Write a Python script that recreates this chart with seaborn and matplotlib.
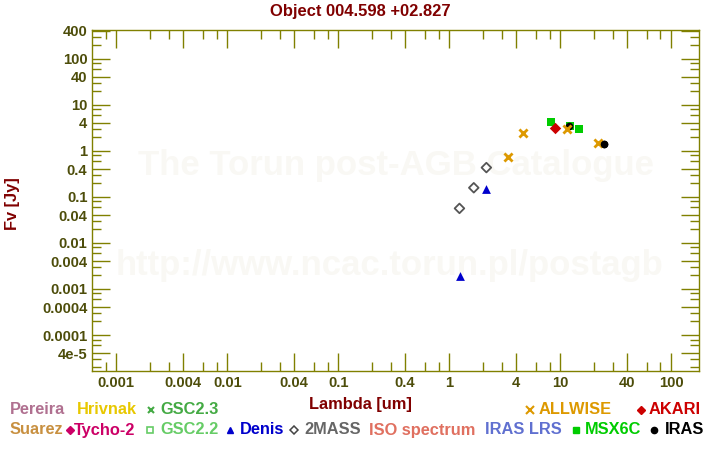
import matplotlib
matplotlib.use("Agg")
import matplotlib.pyplot as plt
import seaborn as sns
import numpy as np
import pandas as pd
from matplotlib.lines import Line2D
from matplotlib.ticker import FixedLocator, NullFormatter

# ---------------- data ----------------
twomass_wl = [1.235, 1.662, 2.159]
twomass_fl = [0.056, 0.157, 0.43]

denis_wl = [1.25, 2.15]
denis_fl = [0.0019, 0.146]

allwise_wl = [3.35, 4.6, 11.56, 22.08]
allwise_fl = [0.72, 2.38, 2.9, 1.45]

akari_wl = [9.0]
akari_fl = [3.06]

msx_wl = [8.28, 12.13, 14.65]
msx_fl = [4.13, 3.43, 2.91]

iras_wl = [12.0, 25.0]
iras_fl = [3.45, 1.38]

x_major = [0.001, 0.004, 0.01, 0.04, 0.1, 0.4, 1, 4, 10, 40, 100]
x_labels = ["0.001", "0.004", "0.01", "0.04", "0.1", "0.4", "1", "4", "10", "40", "100"]
y_major = [4e-5, 1e-4, 4e-4, 1e-3, 4e-3, 0.01, 0.04, 0.1, 0.4, 1, 4, 10, 40, 100, 400]
y_labels = ["4e-5", "0.0001", "0.0004", "0.001", "0.004", "0.01", "0.04", "0.1", "0.4",
            "1", "4", "10", "40", "100", "400"]

title = "Object 004.598 +02.827"

# ---------------- style ----------------
sns.set_theme(style="white")
plt.rcParams['font.family'] = ['Liberation Sans', 'DejaVu Sans']
plt.rcParams['font.weight'] = 'bold'

OLIVE = "#808000"
TICKTXT = "#4d4d0a"
DARKRED = "#800000"
WM = "#f9f8f4"

fig = plt.figure(figsize=(7.2, 4.5), dpi=100)
W, H = 720.0, 450.0
L, R, T, B = 92.3, 699.3, 29.7, 371.0
ax = fig.add_axes([L / W, 1 - B / H, (R - L) / W, (B - T) / H])
ax.set_facecolor("white")

# watermarks
ax.text(0.5, 1 - (165 - T) / (B - T), "The Torun post-AGB Catalogue", transform=ax.transAxes,
        ha="center", va="center", fontsize=25, fontweight="bold", color=WM, zorder=0)
ax.text(0.49, 1 - (265 - T) / (B - T), "http://www.ncac.torun.pl/postagb", transform=ax.transAxes,
        ha="center", va="center", fontsize=25, fontweight="bold", color=WM, zorder=0)

# ---------------- series ----------------
sns.scatterplot(x=twomass_wl, y=twomass_fl, ax=ax, marker="D", s=24,
                facecolor="none", edgecolor="#555555", linewidth=1.3, zorder=3)
sns.scatterplot(x=denis_wl, y=denis_fl, ax=ax, marker="^", s=40,
                color="#0000cc", edgecolor="#0000cc", linewidth=0, zorder=3)
sns.scatterplot(x=msx_wl, y=msx_fl, ax=ax, marker="s", s=30,
                color="#00cc00", edgecolor="#00cc00", linewidth=0, zorder=3)
sns.scatterplot(x=akari_wl, y=akari_fl, ax=ax, marker="D", s=34,
                color="#cc0000", edgecolor="#cc0000", linewidth=0, zorder=4)
sns.scatterplot(x=iras_wl, y=iras_fl, ax=ax, marker="o", s=30,
                color="black", edgecolor="black", linewidth=0, zorder=4)
sns.scatterplot(x=allwise_wl, y=allwise_fl, ax=ax, marker="x", s=34,
                color="#dd9900", linewidth=2.0, zorder=5)
sns.scatterplot(x=[iras_wl[1]], y=[iras_fl[1]], ax=ax, marker="o", s=30,
                color="black", edgecolor="black", linewidth=0, zorder=6)

ax.set_xscale("log")
ax.set_yscale("log")
ax.set_xlim(6.07e-4, 179)
ax.set_ylim(1.66e-5, 422)

# ticks
x_minor = [m * 10.0 ** e for e in range(-4, 3) for m in (2, 3, 6, 8)]
x_minor = [v for v in x_minor if 6.07e-4 < v < 179]
y_minor = [m * 10.0 ** e for e in range(-5, 3) for m in (2, 3, 6, 8)]
y_minor = [v for v in y_minor if 1.66e-5 < v < 422]

ax.xaxis.set_major_locator(FixedLocator(x_major))
ax.xaxis.set_minor_locator(FixedLocator(x_minor))
ax.yaxis.set_major_locator(FixedLocator(y_major))
ax.yaxis.set_minor_locator(FixedLocator(y_minor))
ax.set_xticklabels(x_labels)
ax.set_yticklabels(y_labels)
ax.xaxis.set_minor_formatter(NullFormatter())
ax.yaxis.set_minor_formatter(NullFormatter())

ax.tick_params(which="both", direction="in", top=True, right=True, bottom=True, left=True,
               color=OLIVE, width=1.0)
ax.tick_params(which="major", length=13, labelsize=10.6, labelcolor=TICKTXT, pad=3.5)
ax.tick_params(which="minor", length=6.5)
for lab in ax.get_xticklabels() + ax.get_yticklabels():
    lab.set_fontweight("bold")

for sp in ax.spines.values():
    sp.set_color(OLIVE)
    sp.set_linewidth(1.0)
    sp.set_visible(True)

ax.set_xlabel("")
ax.set_ylabel("")

# titles / labels
fig.text(0.5, 1 - 11.5 / H, title, ha="center", va="center", fontsize=11.9,
         fontweight="bold", color=DARKRED)
fig.text(0.5, 1 - 404 / H, "Lambda [um]", ha="center", va="center", fontsize=11.8,
         fontweight="bold", color=DARKRED)
fig.text(12 / W, 1 - 204 / H, "Fv [Jy]", ha="center", va="center", rotation=90,
         fontsize=11.8, fontweight="bold", color=DARKRED)

# ---------------- legend ----------------
FS = 11.8
def ltext(x, y, s, c):
    fig.text(x / W, 1 - y / H, s, ha="left", va="center", fontsize=FS,
             fontweight="bold", color=c)

def lmark(x, y, m, c, ms, fill=True, mew=1.0):
    fig.add_artist(Line2D([x / W], [1 - y / H], transform=fig.transFigure, marker=m,
                          markersize=ms, color=c, markerfacecolor=c if fill else "none",
                          markeredgecolor=c, markeredgewidth=mew, linestyle="none"))

r1, r2 = 410, 430
ltext(10, r1, "Pereira", "#b07090")
ltext(77, r1, "Hrivnak", "#e8c800")
lmark(150.7, r1, "x", "#44aa44", 5, mew=1.5)
ltext(160, r1, "GSC2.3", "#44aa44")
lmark(530, r1, "x", "#dd9900", 5.5, mew=1.5)
ltext(539, r1, "ALLWISE", "#dd9900")
lmark(641, r1, "D", "#cc0000", 4.5)
ltext(649, r1, "AKARI", "#cc0000")

ltext(10, r2, "Suarez", "#c89040")
lmark(70, r2, "D", "#cc0066", 4.5)
ltext(73.5, r2, "Tycho-2", "#cc0066")
lmark(150, r2, "s", "#66cc66", 4.5, fill=False, mew=1.2)
ltext(160, r2, "GSC2.2", "#66cc66")
lmark(230, r2, "^", "#0000cc", 5)
ltext(240, r2, "Denis", "#0000cc")
lmark(294.3, r2, "D", "#444444", 4.5, fill=False, mew=1.1)
ltext(304.5, r2, "2MASS", "#666666")
ltext(369.5, r2, "ISO spectrum", "#e07060")
ltext(485, r2, "IRAS LRS", "#6070d0")
lmark(575.7, r2, "s", "#00cc00", 5)
ltext(585, r2, "MSX6C", "#00cc00")
lmark(654.3, r2, "o", "#000000", 4.5)
ltext(664.5, r2, "IRAS", "#000000")

fig.savefig("out.png", dpi=100)
